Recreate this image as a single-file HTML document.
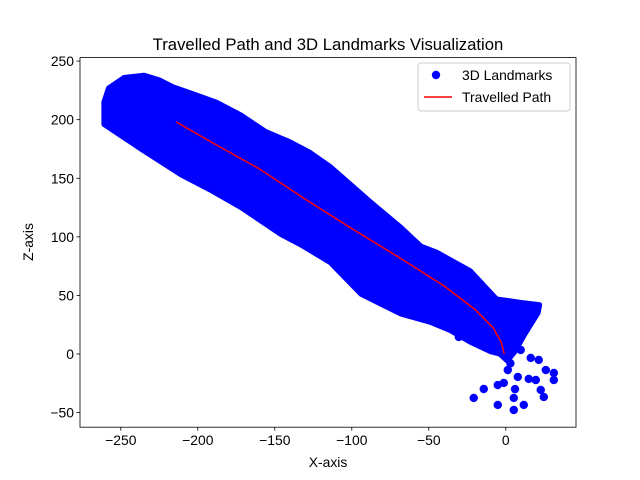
<!DOCTYPE html>
<html><head><meta charset="utf-8"><style>body{margin:0;background:#fff}svg{display:block;font-family:"Liberation Sans","DejaVu Sans",sans-serif}</style></head>
<body>
<svg id="c" width="640" height="480"></svg>
<script>
const xTicks=[-250,-200,-150,-100,-50,0];
const yTicks=[-50,0,50,100,150,200,250];
const bandUpperX=[-261,-258,-248,-235,-225,-216,-205,-188,-172,-156,-140,-127,-114,-88,-68,-55,-45,-23,-6,10,22];
const bandUpperZ=[215,227,236,238,234,228,223,215,204,190,181,172,160,130,108,92,87,71,47,44,42];
const bandLowerX=[21,12,6,1,-4,-10,-23,-36,-49,-68,-94,-114,-133,-146,-172,-192,-211,-237,-261];
const bandLowerZ=[35,16,2,-6,0,2,10,20,27,34,51,78,93,102,125,140,153,175,196];
const outX=[-30.5,-20.8,-14.3,-5.2,-5.2,5.2,11.7,5.2,-1.3,7.8,1.3,9.7,16.2,21.4,26,31.2,31.2,14.9,19.5,22.7,24.7,3,6];
const outZ=[14.5,-37.5,-29.9,-26.5,-43.5,-47.8,-43.5,-37.5,-24.7,-19.6,-13.7,3.4,-3.4,-5.1,-13.7,-16.2,-22.2,-21.3,-22.2,-30.7,-36.7,-8,-30];
const pathX=[-214,-190,-160,-130,-100,-70,-40,-20,-8,-3,-1];
const pathZ=[198,180,158,132,107,83,58,38,22,10,0];
const L=80,R=576,T=57.6,B=427.2,x0=-276.5,x1=45.6,y0=-62.5,y1=253;
const sx=v=>L+(v-x0)/(x1-x0)*(R-L), sy=v=>B-(v-y0)/(y1-y0)*(B-T);
const s=document.getElementById('c');const NS='http://www.w3.org/2000/svg';
function el(t,a,p){const e=document.createElementNS(NS,t);for(const k in a)e.setAttribute(k,a[k]);(p||s).appendChild(e);return e;}
let pts=[];bandUpperX.forEach((v,i)=>pts.push(sx(v)+','+sy(bandUpperZ[i])));bandLowerX.forEach((v,i)=>pts.push(sx(v)+','+sy(bandLowerZ[i])));
const band=el('polygon',{points:pts.join(' '),fill:'#0000ff',stroke:'#0000ff','stroke-width':5,'stroke-linejoin':'round'});


outX.forEach((v,i)=>{const c=el('circle',{cx:sx(v),cy:sy(outZ[i]),r:4.2,fill:'#0000ff'});

});
const pl=el('polyline',{points:pathX.map((v,i)=>sx(v)+','+sy(pathZ[i])).join(' '),fill:'none',stroke:'#ff0000','stroke-width':1.5});


const fr=el('rect',{x:L,y:T,width:R-L,height:B-T,fill:'none',stroke:'#000','stroke-width':0.8});


xTicks.forEach(v=>{el('line',{x1:sx(v),x2:sx(v),y1:B,y2:B+3.5,stroke:'#000','stroke-width':0.8});
const t=el('text',{x:sx(v),y:B+18,'font-size':13.9,'text-anchor':'middle'});t.textContent=v<0?'\u2212'+(-v):v;

});
yTicks.forEach(v=>{el('line',{x1:L-3.5,x2:L,y1:sy(v),y2:sy(v),stroke:'#000','stroke-width':0.8});
const t=el('text',{x:L-6,y:sy(v)+5,'font-size':13.9,'text-anchor':'end'});t.textContent=v<0?'\u2212'+(-v):v;

});
</script>
<svg width="640" height="480" style="position:absolute;left:0;top:0;font-family:'Liberation Sans','DejaVu Sans',sans-serif">
<text x="328" y="50" font-size="16.7" text-anchor="middle">Travelled Path and 3D Landmarks Visualization</text>
<text x="328" y="467" font-size="13.9" text-anchor="middle">X-axis</text>
<text x="33" y="242" font-size="13.9" text-anchor="middle" transform="rotate(-90 33 242)">Z-axis</text>
<g>
<rect x="418" y="63" width="152" height="48" rx="3" fill="#fff" fill-opacity="0.8" stroke="#ccc"/>
<circle cx="436" cy="75" r="4.2" fill="#0000ff"/>
<text x="462" y="80" font-size="13.9">3D Landmarks</text>
<line x1="424" x2="452" y1="97" y2="97" stroke="#ff0000" stroke-width="1.5"/>
<text x="462" y="102" font-size="13.9">Travelled Path</text>
</g>
</svg>
</body></html>
